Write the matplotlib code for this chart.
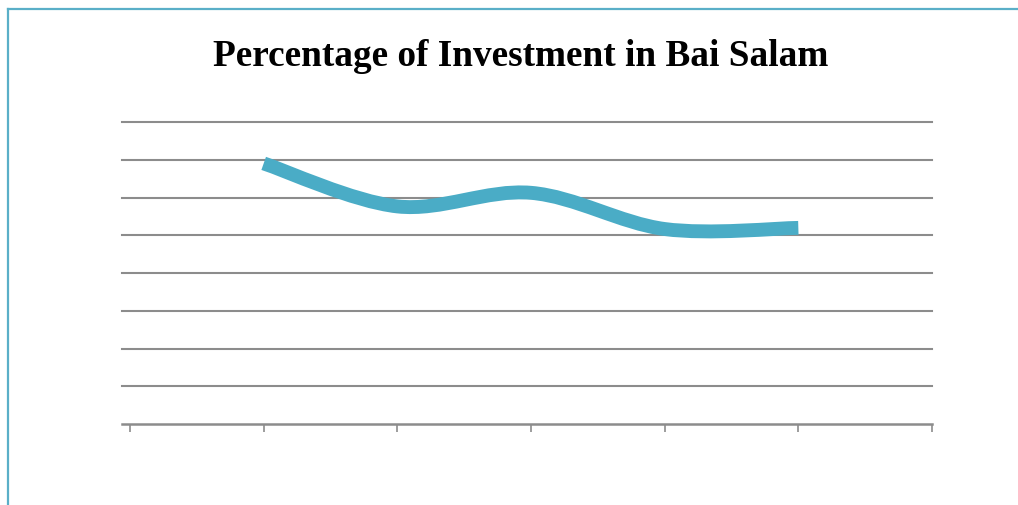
import matplotlib
matplotlib.use("Agg")
import matplotlib.pyplot as plt
from matplotlib.path import Path
from matplotlib.patches import PathPatch
from matplotlib.lines import Line2D
import numpy as np

# ---- data ----
title = "Percentage of Investment in Bai Salam"
category_positions = [0, 1, 2, 3, 4, 5, 6]
x_values = [1, 2, 3, 4, 5]
y_values = [6.91, 5.77, 6.13, 5.17, 5.20]
y_gridlines = [1, 2, 3, 4, 5, 6, 7, 8]

W, H = 1018, 506
fig = plt.figure(figsize=(W / 100, H / 100), dpi=100)

# figure frame (top + left edges visible)
frame_color = "#5aafc8"
fig.add_artist(Line2D([8 / W, 1.0], [1 - 10 / H, 1 - 10 / H], transform=fig.transFigure,
                      color=frame_color, lw=1.6))
fig.add_artist(Line2D([8 / W, 8 / W], [0, 1 - 10 / H], transform=fig.transFigure,
                      color=frame_color, lw=1.6))

ax_left, ax_right = 122 / W, 932 / W
ax_bottom, ax_top = 1 - 425 / H, 1 - 123.3 / H
ax = fig.add_axes([ax_left, ax_bottom, ax_right - ax_left, ax_top - ax_bottom])
ax.set_xlim(-0.06, 6)
ax.set_ylim(0, 8)

grid_color = "#8c8c8c"
for gy in y_gridlines:
    ax.axhline(gy, color=grid_color, lw=1.5, zorder=1, clip_on=False)

for s in ["top", "right", "left"]:
    ax.spines[s].set_visible(False)
ax.spines["bottom"].set_color(grid_color)
ax.spines["bottom"].set_linewidth(1.8)
ax.set_yticks([])
ax.set_xticks(category_positions)
ax.set_xticklabels([])
ax.tick_params(axis="x", direction="out", length=6, width=1.2, color=grid_color)

# smoothed line (Catmull-Rom style Bezier as in Excel)
xs = np.array(x_values, dtype=float)
ys = np.array(y_values, dtype=float)
n = len(xs)
verts = [(xs[0], ys[0])]
codes = [Path.MOVETO]
for i in range(n - 1):
    p0 = np.array([xs[max(i - 1, 0)], ys[max(i - 1, 0)]])
    p1 = np.array([xs[i], ys[i]])
    p2 = np.array([xs[i + 1], ys[i + 1]])
    p3 = np.array([xs[min(i + 2, n - 1)], ys[min(i + 2, n - 1)]])
    c1 = p1 + (p2 - p0) / 6.0
    c2 = p2 - (p3 - p1) / 6.0
    verts += [tuple(c1), tuple(c2), tuple(p2)]
    codes += [Path.CURVE4] * 3
patch = PathPatch(Path(verts, codes), facecolor="none", edgecolor="#4aacc6",
                  lw=10, capstyle="butt", joinstyle="round", zorder=3)
ax.add_patch(patch)

fig.text(521 / W, 1 - 56 / H, title, ha="center", va="center",
         fontsize=26.8, fontweight="bold", family="Liberation Serif")

fig.savefig("out.png", dpi=100, facecolor="white")
